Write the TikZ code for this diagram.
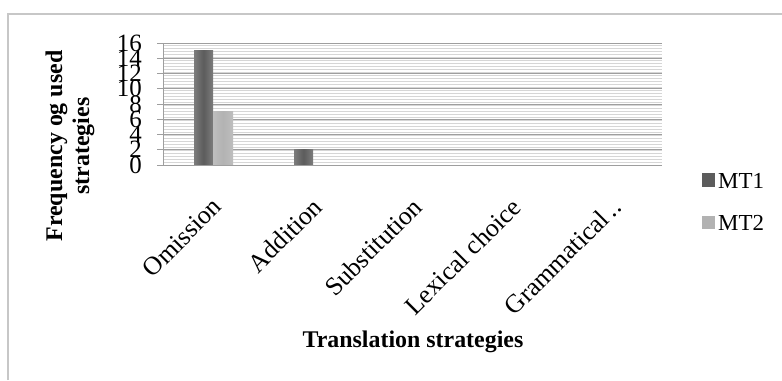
\documentclass[tikz,border=0pt]{standalone}
\usepackage{fontspec}
\setmainfont{Liberation Serif}
\usetikzlibrary{calc}
\definecolor{frameg}{gray}{0.78}
\definecolor{hatchg}{gray}{0.84}
\definecolor{majorg}{gray}{0.62}
\definecolor{mtone}{gray}{0.36}
\definecolor{mttwo}{gray}{0.70}
\tikzset{
  ticklab/.style={anchor=east,inner sep=0pt,font=\fontsize{25}{25}\selectfont},
  catlab/.style={anchor=north east,inner sep=0pt,rotate=45,font=\fontsize{26}{26}\selectfont},
  axtitle/.style={font=\fontsize{24}{27}\bfseries\selectfont,align=center,inner sep=0pt},
  legtext/.style={anchor=base west,inner sep=0pt,font=\fontsize{23}{23}\selectfont},
  barone/.style={left color=mtone!80!white,right color=mtone!80!white,middle color=mtone},
  bartwo/.style={left color=mttwo!85!white,right color=mttwo!85!white,middle color=mttwo},
}
\begin{document}
\begin{tikzpicture}[x=1bp,y=1bp]
\useasboundingbox (0,0) rectangle (782,380);
\fill[white] (0,0) rectangle (782,380);
% outer frame
\draw[frameg,line width=2bp] (8,0) -- (8,366) -- (782,366);
% plot area hatch
\foreach \k in {0,...,40} {
  \draw[hatchg,line width=0.8bp] (163,{215+\k*3}) -- (662,{215+\k*3});
}
% major gridlines, ticks and labels
\foreach \v in {0,2,...,16} {
  \draw[majorg,line width=0.8bp] (157,{215+\v*7.625}) -- (662,{215+\v*7.625});
  \node[ticklab] (t\v) at (142,{215+\v*7.625}) {\v};
}
\draw[majorg,line width=0.8bp] (163,215) -- (163,337);
% bars
\fill[barone] (194,215) rectangle (213,{215+15*7.625});
\fill[bartwo] (213,215) rectangle (233,{215+7*7.625});
\fill[barone] (294,215) rectangle (313,{215+2*7.625});
\draw[majorg,line width=0.8bp] (163,215) -- (662,215);
% category labels
\node[catlab] (c1) at (211,184) {Omission};
\node[catlab] (c2) at (311,184) {Addition};
\node[catlab] (c3) at (411,184) {Substitution};
\node[catlab] (c4) at (510,184) {Lexical choice};
\node[catlab] (c5) at (610,184) {Grammatical\,..};
% axis titles
\node[axtitle,rotate=90] (ytitle) at (70,234) {Frequency og used\\strategies};
\node[axtitle] (xtitle) at (413,38) {Translation strategies};
% legend
\fill[mtone] (702,193) rectangle (715,207);
\node[legtext] (l1) at (718,192) {MT1};
\fill[mttwo] (702,151) rectangle (715,164);
\node[legtext] (l2) at (718,150) {MT2};
\end{tikzpicture}
\end{document}
